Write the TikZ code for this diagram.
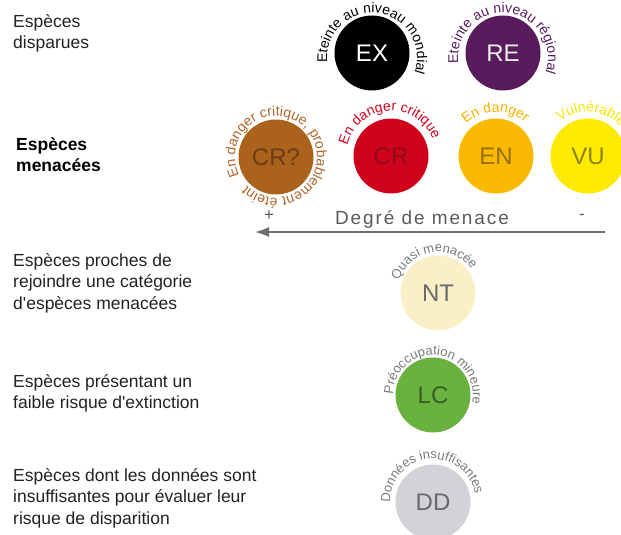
\documentclass[tikz,border=0pt]{standalone}
\usepackage{fontspec}
\setmainfont{Liberation Sans}
\usetikzlibrary{arrows.meta, decorations.text}

\definecolor{legende}{RGB}{34,34,34}
\definecolor{menace}{RGB}{90,90,90}
\definecolor{fleche}{RGB}{110,110,110}
\definecolor{refond}{RGB}{88,28,92}
\definecolor{crqfond}{RGB}{170,98,28}
\definecolor{crfond}{RGB}{208,2,27}
\definecolor{enfond}{RGB}{249,185,0}
\definecolor{vufond}{RGB}{255,234,0}
\definecolor{ntfond}{RGB}{250,240,200}
\definecolor{lcfond}{RGB}{106,178,64}
\definecolor{ddfond}{RGB}{210,211,214}
\definecolor{crqtexte}{RGB}{110,60,20}
\definecolor{crtexte}{RGB}{140,10,25}
\definecolor{entexte}{RGB}{150,110,0}
\definecolor{vutexte}{RGB}{140,130,0}
\definecolor{lctexte}{RGB}{55,95,35}
\definecolor{gristexte}{RGB}{105,105,105}
\definecolor{crqarc}{RGB}{176,101,42}
\definecolor{enarc}{RGB}{245,176,0}
\definecolor{vuarc}{RGB}{247,228,0}
\definecolor{grisarc}{RGB}{122,122,122}

\tikzset{
    pastille/.style={circle, minimum size=75pt, inner sep=0pt,
        font=\fontsize{24}{24}\selectfont},
    legende/.style={anchor=north west, align=left, inner sep=0pt,
        font=\fontsize{17.5}{21.5}\selectfont, text=legende},
    arctexte/.style n args={3}{decorate, decoration={text along path,
        text={|\fontsize{#2}{#2}\selectfont\color{#1}|#3}}}
}

\begin{document}
\begin{tikzpicture}[x=1pt, y=1pt, >={Latex[length=14pt, width=10pt]}]
    \useasboundingbox (0, 0) rectangle (621, -535);
    \clip (0, 0) rectangle (621, -535);

    % legende de gauche
    \node [legende] (disparues) at (13, -14) {Espèces\\disparues};
    \node [legende, font=\fontsize{17.5}{21.5}\selectfont\bfseries, text=black]
        (menacees) at (16, -137) {Espèces\\menacées};
    \node [legende] (proches) at (13, -253)
        {Espèces proches de\\rejoindre une catégorie\\d\textquotesingle espèces menacées};
    \node [legende] (faible) at (13, -374)
        {Espèces présentant un\\faible risque d\textquotesingle extinction};
    \node [legende] (donnees) at (13, -468)
        {Espèces dont les données sont\\insuffisantes pour évaluer leur\\risque de disparition};

    % pastilles
    \node [pastille, fill=black, text=white] (ex) at (372, -53) {EX};
    \node [pastille, fill=refond, text=white!92!black] (re) at (503, -53) {RE};
    \node [pastille, fill=crqfond, text=crqtexte] (crq) at (276, -157) {CR?};
    \node [pastille, fill=crfond, text=crtexte] (cr) at (391, -156) {CR};
    \node [pastille, fill=enfond, text=entexte] (en) at (496, -156) {EN};
    \node [pastille, fill=vufond, text=vutexte] (vu) at (588, -156) {VU};
    \node [pastille, fill=ntfond, text=gristexte] (nt) at (438, -293) {NT};
    \node [pastille, fill=lcfond, text=lctexte] (lc) at (433, -395) {LC};
    \node [pastille, fill=ddfond, text=gristexte] (dd) at (433, -502) {DD};

    % textes en arc
    \coordinate (exc) at ([yshift=-5pt]ex.center);
    \coordinate (rec) at ([yshift=-5pt]re.center);
    \path [arctexte={black}{14}{Eteinte au niveau mondial}]
        ([shift={(186:45pt)}]exc) arc [start angle=186, end angle=-80, radius=45pt];
    \path [arctexte={refond}{14}{Eteinte au niveau régional}]
        ([shift={(187:45pt)}]rec) arc [start angle=187, end angle=-80, radius=45pt];
    \path [arctexte={crqarc}{14}{En danger critique, probablement éteint}]
        ([shift={(207:41pt)}]crq.center) arc [start angle=207, end angle=-150, radius=41pt];
    \path [arctexte={crfond}{14}{En danger critique}]
        ([shift={(166:45pt)}]cr.center) arc [start angle=166, end angle=-60, radius=45pt];
    \path [arctexte={enarc}{14}{En danger}]
        ([shift={(133:44pt)}]en.center) arc [start angle=133, end angle=-60, radius=44pt];
    \path [arctexte={vuarc}{14}{Vulnérable}]
        ([shift={(129:44pt)}]vu.center) arc [start angle=129, end angle=-60, radius=44pt];
    \path [arctexte={grisarc}{13}{Quasi menacée}]
        ([shift={(162:41pt)}]nt.center) arc [start angle=162, end angle=-60, radius=41pt];
    \path [arctexte={grisarc}{13}{Préoccupation mineure}]
        ([shift={(179:40pt)}]lc.center) arc [start angle=179, end angle=-60, radius=40pt];
    \path [arctexte={grisarc}{13}{Données insuffisantes}]
        ([shift={(181:43pt)}]dd.center) arc [start angle=181, end angle=-60, radius=43pt];

    % degre de menace
    \coordinate (droite) at (605, -232);
    \coordinate (gauche) at (255, -232);
    \draw [->, fleche, line width=1.5pt] (droite) -- (gauche);
    \node [font=\fontsize{19}{19}\selectfont\addfontfeature{LetterSpace=10}, text=menace,
        anchor=base] (degre) at (422, -224) {Degré de menace};
    \node [font=\fontsize{17}{17}\selectfont, text=menace] (plus) at (269, -216) {+};
    \node [font=\fontsize{17}{17}\selectfont, text=menace] (moins) at (582, -217) {-};
\end{tikzpicture}
\end{document}
